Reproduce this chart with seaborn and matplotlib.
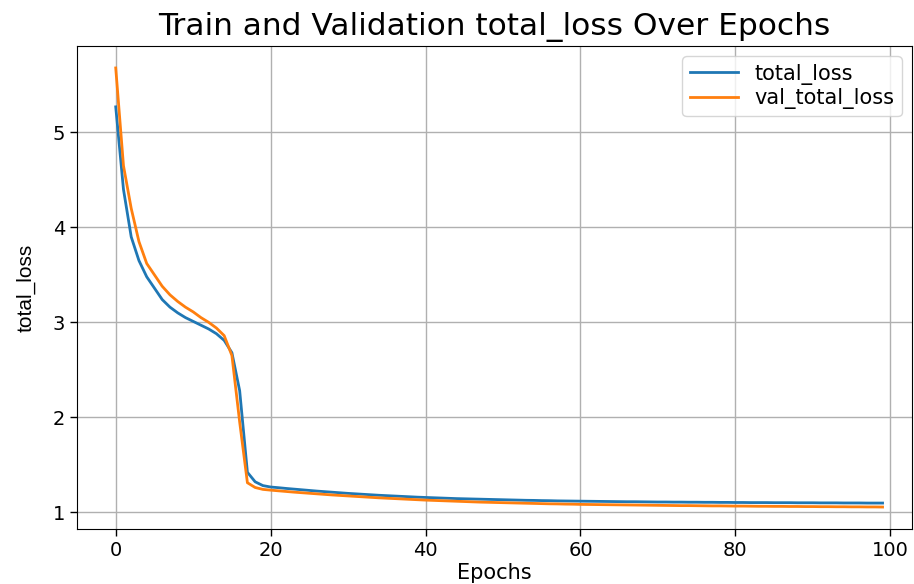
import matplotlib
matplotlib.use("Agg")
import matplotlib.pyplot as plt
import seaborn as sns
import pandas as pd
from matplotlib import font_manager

epochs = list(range(100))

total_loss = [
    5.27, 4.40, 3.90, 3.65, 3.48, 3.36, 3.24, 3.16, 3.10, 3.05,
    3.01, 2.97, 2.93, 2.88, 2.81, 2.68, 2.28, 1.42, 1.32, 1.28,
    1.265, 1.258, 1.250, 1.243, 1.236, 1.229, 1.222, 1.216, 1.210, 1.204,
    1.198, 1.193, 1.188, 1.183, 1.178, 1.174, 1.170, 1.166, 1.162, 1.158,
    1.155, 1.152, 1.149, 1.146, 1.143, 1.141, 1.139, 1.137, 1.135, 1.133,
    1.131, 1.129, 1.127, 1.125, 1.124, 1.122, 1.121, 1.119, 1.118, 1.117,
    1.116, 1.115, 1.114, 1.113, 1.112, 1.111, 1.110, 1.110, 1.109, 1.108,
    1.107, 1.107, 1.106, 1.106, 1.105, 1.105, 1.104, 1.104, 1.103, 1.103,
    1.102, 1.102, 1.101, 1.101, 1.101, 1.100, 1.100, 1.100, 1.099, 1.099,
    1.099, 1.098, 1.098, 1.098, 1.097, 1.097, 1.097, 1.096, 1.096, 1.096,
]

val_total_loss = [
    5.68, 4.65, 4.20, 3.85, 3.62, 3.50, 3.38, 3.29, 3.22, 3.16,
    3.11, 3.05, 3.00, 2.94, 2.86, 2.65, 1.95, 1.31, 1.26, 1.24,
    1.232, 1.225, 1.218, 1.211, 1.205, 1.199, 1.193, 1.187, 1.181, 1.176,
    1.171, 1.166, 1.161, 1.156, 1.151, 1.147, 1.143, 1.139, 1.135, 1.131,
    1.127, 1.124, 1.121, 1.118, 1.115, 1.112, 1.109, 1.106, 1.104, 1.102,
    1.100, 1.098, 1.096, 1.094, 1.092, 1.090, 1.088, 1.087, 1.085, 1.084,
    1.082, 1.081, 1.080, 1.079, 1.078, 1.077, 1.076, 1.075, 1.074, 1.073,
    1.072, 1.071, 1.070, 1.069, 1.069, 1.068, 1.067, 1.066, 1.066, 1.065,
    1.064, 1.064, 1.063, 1.062, 1.062, 1.061, 1.061, 1.060, 1.060, 1.059,
    1.059, 1.058, 1.058, 1.057, 1.057, 1.056, 1.056, 1.055, 1.055, 1.054,
]

series_labels = ["total_loss", "val_total_loss"]
title_text = "Train and Validation total_loss Over Epochs"
xlabel_text = "Epochs"
ylabel_text = "total_loss"
xticks = [0, 20, 40, 60, 80, 100]
yticks = [1, 2, 3, 4, 5]

df = pd.DataFrame({"epoch": epochs, "total_loss": total_loss, "val_total_loss": val_total_loss})

fig = plt.figure(figsize=(9.14, 5.84), dpi=100)
ax = fig.add_axes([77 / 914, 1 - 529 / 584, (912 - 77) / 914, (529 - 46) / 584])

colors = ["#1f77b4", "#ff7f0e"]
sns.lineplot(data=df, x="epoch", y="total_loss", ax=ax, color=colors[0], linewidth=2, label=series_labels[0])
sns.lineplot(data=df, x="epoch", y="val_total_loss", ax=ax, color=colors[1], linewidth=2, label=series_labels[1])

ax.set_xlim(-5.0, 102.8)
ax.set_xticks(xticks)
ax.set_yticks(yticks)
ax.grid(True, color="#b0b0b0", linewidth=1.0)
ax.set_axisbelow(True)
ax.tick_params(labelsize=14, length=5, width=1)
ax.set_title(title_text, fontsize=22.5, pad=8)
ax.set_xlabel(xlabel_text, fontsize=15, labelpad=2)

names = {f.name for f in font_manager.fontManager.ttflist}
if "Liberation Sans Narrow" in names:
    yfam, ysize = ["Liberation Sans Narrow", "DejaVu Sans"], 17
else:
    yfam, ysize = ["Liberation Sans", "DejaVu Sans"], 15
ax.set_ylabel(ylabel_text, fontsize=ysize, family=yfam, labelpad=12)

ax.legend(loc="upper right", fontsize=15, framealpha=0.8, labelspacing=0.15,
          handlelength=2.3, borderpad=0.35, borderaxespad=0.5)

fig.savefig("out.png", dpi=100)
